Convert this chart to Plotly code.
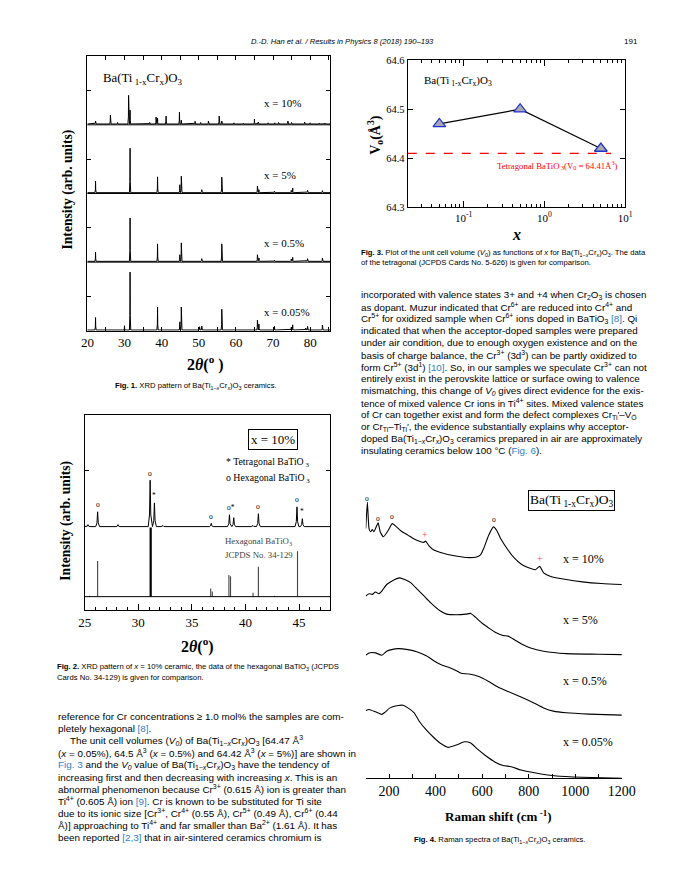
import plotly.graph_objects as go

PAGE_W, PAGE_H = 692, 875
OFF = 8                      # default body margin of the page
W, H = PAGE_W - 2 * OFF, 850
SERIF = "Liberation Serif"
SANS = "Liberation Sans"
BLUE = "#2f7fc8"

# ---------------- Fig. 1 : XRD peaks (2theta, relative intensity) ----------------
f1_theta_10 = [22.2, 26.2, 28.1, 31.1, 31.5, 36.8, 38.5, 38.9, 41.2, 44.8, 45.3, 49.0, 50.5,
               52.6, 55.5, 56.2, 59.5, 62.0, 65.0, 66.0, 68.7, 70.5, 71.5, 74.0, 75.0, 78.5,
               80.0, 82.5, 84.0]
f1_int_10 = [3, 9, 1.5, 29, 14, 1.5, 7, 6, 8, 12, 4, 2.7, 1.5, 3, 8, 3, 1.2, 0.8, 5, 2, 1.2,
             1.2, 1.5, 3, 1.5, 2, 1.2, 1, 1]
f1_theta_5 = [22.2, 31.5, 38.9, 44.9, 45.3, 50.8, 56.2, 65.8, 66.2, 70.4, 74.9, 75.3, 79.3, 83.3]
f1_int_5 = [11.7, 45, 16, 8, 16.7, 3, 15.7, 6.7, 3, 1.5, 2.3, 4.7, 2.3, 2]
f1_theta_05 = [22.2, 31.5, 38.9, 44.9, 45.3, 50.8, 56.2, 65.8, 66.2, 70.4, 74.9, 75.3, 79.3, 83.3]
f1_int_05 = [9.3, 44, 17.7, 6.7, 18.7, 2.7, 17.7, 6.7, 3.3, 1, 2.3, 4, 2.7, 3.3]
f1_theta_005 = [22.2, 30.0, 31.5, 38.9, 44.9, 45.3, 50.2, 50.8, 56.2, 65.8, 66.2, 70.4, 74.9,
                75.3, 78.8, 79.3, 83.3]
f1_int_005 = [12.7, 4.3, 58.7, 23.3, 8.3, 23.3, 3.3, 4, 21, 10, 6, 3.7, 2.7, 5.3, 2, 3.7, 5]
f1_labels = ["x = 10%", "x = 5%", "x = 0.5%", "x = 0.05%"]
f1_ticks = [20, 25, 30, 35, 40, 45, 50, 55, 60, 65, 70, 75, 80, 85]

# ---------------- Fig. 2 : x = 10% pattern and JCPDS 34-129 ----------------
f2_theta = [25.3, 26.2, 28.1, 31.1, 31.5, 32.3, 36.8, 38.5, 38.9, 40.7, 41.2, 44.8, 45.3]
f2_int = [2, 15, 2, 47, 24, 1, 3.3, 12, 9, 1, 13, 20, 8]
f2_mark_theta = [26.2, 31.1, 31.5, 36.8, 38.6, 41.2, 44.8, 45.3]
f2_mark_text = ["o", "o", "*", "o", "o*", "o", "o", "*"]
f2_ref_theta = [25.45, 26.2, 31.15, 36.75, 36.9, 38.45, 38.6, 40.7, 41.2, 42.7, 44.85]
f2_ref_int = [1, 36, 70, 8.3, 5.3, 22, 20.7, 4, 30.3, 1, 46]

# ---------------- Fig. 3 : unit cell volume ----------------
f3_x = [0.05, 0.5, 5.0]
f3_v = [64.47, 64.50, 64.42]
f3_ref_v = 64.41
f3_ref_x = [0.0203, 6.7]

# ---------------- Fig. 4 : Raman spectra ----------------
r10_x = [100, 107, 114, 121, 128, 135, 153, 162, 176, 197, 214, 232, 253, 281, 308, 336, 350,
         357, 371, 392, 433, 475, 531, 572, 593, 607, 628, 649, 662, 683, 711, 739, 767, 794,
         829, 847, 864, 892, 961, 1031, 1114, 1200]
r10_y = [253, 279.7, 253, 249.7, 252, 249.7, 258.7, 249.7, 244.7, 251.3, 258, 254.7, 250.3,
         246.3, 242.3, 239.7, 239, 240.3, 235.7, 231.3, 228, 225.7, 223.7, 224, 226.3, 233,
         246.3, 254.7, 251.3, 241.3, 231.3, 223, 217, 213.7, 211.3, 214.7, 208, 204.7, 201.3,
         199, 197.3, 196.3]
r5_x = [100, 114, 128, 142, 156, 169, 190, 211, 246, 267, 294, 322, 350, 378, 419, 447, 489,
        531, 551, 572, 600, 628, 656, 690, 711, 739, 767, 808, 864, 961, 1100, 1200]
r5_y = [184.7, 187, 186.3, 188.7, 187, 189.7, 196.3, 199.7, 203, 201.3, 198, 191.3, 184.7,
        178, 169.7, 166.3, 165.7, 166.3, 167, 163, 157, 152.3, 148, 144.7, 144, 140.3, 136.3,
        132, 128.7, 126.3, 125.7, 125.3]
r05_x = [100, 114, 142, 169, 190, 211, 239, 281, 322, 364, 399, 426, 461, 489, 510, 544, 586,
         628, 669, 711, 767, 822, 864, 906, 961, 1058, 1200]
r05_y = [124.7, 127, 127, 124.7, 128.7, 130.3, 131.3, 130.3, 128, 123.7, 118, 114.7, 112, 109,
         106.3, 105.7, 103, 98, 92.3, 88, 82.3, 76.3, 71.3, 68, 66.3, 65, 64]
r005_x = [100, 114, 142, 169, 183, 204, 239, 260, 281, 308, 329, 357, 392, 419, 454, 489, 524,
          551, 579, 614, 656, 690, 725, 767, 836, 919, 1031, 1200]
r005_y = [68.7, 69.7, 67.3, 64.7, 67, 71.3, 73.7, 74, 71.3, 66.3, 58, 49.7, 41.3, 35.7, 31.3,
          33.7, 37, 35.7, 29.7, 23, 16.3, 13, 11.7, 8.3, 5, 2.3, 1, 0]
r_mark_x = [107, 153, 214, 653, 354, 850]
r_mark_y = [283.7, 263, 265.3, 262, 247, 222.3]
r_mark_text = ["o", "o", "o", "o", "+", "+"]
r_labels = ["x = 10%", "x = 5%", "x = 0.5%", "x = 0.05%"]
r_ticks = [100, 200, 300, 400, 500, 600, 700, 800, 900, 1000, 1100, 1200]

# ---------------- page text ----------------
header = "<i>D.-D. Han et al. / Results in Physics 8 (2018) 190–193</i>"
page_no = "191"
cap1 = "<b>Fig. 1.</b> XRD pattern of Ba(Ti<sub>1−<i>x</i></sub>Cr<sub><i>x</i></sub>)O<sub>3</sub> ceramics."
cap2 = ["<b>Fig. 2.</b> XRD pattern of <i>x</i> = 10% ceramic, the data of the hexagonal BaTiO<sub>3</sub> (JCPDS",
        "Cards No. 34-129) is given for comparison."]
cap3 = ["<b>Fig. 3.</b> Plot of the unit cell volume (<i>V</i><sub>0</sub>) as functions of <i>x</i> for Ba(Ti<sub>1−<i>x</i></sub>Cr<sub><i>x</i></sub>)O<sub>3</sub>. The data",
        "of the tetragonal (JCPDS Cards No. 5-626) is given for comparison."]
cap4 = "<b>Fig. 4.</b> Raman spectra of Ba(Ti<sub>1−<i>x</i></sub>Cr<sub><i>x</i></sub>)O<sub>3</sub> ceramics."

def blue(s):
    return "<span style='color:%s'>%s</span>" % (BLUE, s)

right_text = [
    "incorporated with valence states 3+ and +4 when Cr<sub>2</sub>O<sub>3</sub> is chosen",
    "as dopant. Muzur indicated that Cr<sup>6+</sup> are reduced into Cr<sup>4+</sup> and",
    "Cr<sup>5+</sup> for oxidized sample when Cr<sup>6+</sup> ions doped in BaTiO<sub>3</sub> " + blue("[8]") + ". Qi",
    "indicated that when the acceptor-doped samples were prepared",
    "under air condition, due to enough oxygen existence and on the",
    "basis of charge balance, the Cr<sup>3+</sup> (3d<sup>3</sup>) can be partly oxidized to",
    "form Cr<sup>5+</sup> (3d<sup>1</sup>) " + blue("[10]") + ". So, in our samples we speculate Cr<sup>3+</sup> can not",
    "entirely exist in the perovskite lattice or surface owing to valence",
    "mismatching, this change of <i>V<sub>0</sub></i> gives direct evidence for the exis-",
    "tence of mixed valence Cr ions in Ti<sup>4+</sup> sites. Mixed valence states",
    "of Cr can together exist and form the defect complexes Cr<sub>Ti</sub>′–V<sub>Ö</sub>",
    "or Cr<sub>Ti</sub>–Ti<sub>Ti</sub>′, the evidence substantially explains why acceptor-",
    "doped Ba(Ti<sub>1−<i>x</i></sub>Cr<sub><i>x</i></sub>)O<sub>3</sub> ceramics prepared in air are approximately",
    "insulating ceramics below 100 °C (" + blue("Fig. 6") + ").",
]
left_text = [
    "reference for Cr concentrations ≥ 1.0 mol% the samples are com-",
    "pletely hexagonal " + blue("[8]") + ".",
    "The unit cell volumes (<i>V<sub>0</sub></i>) of Ba(Ti<sub>1−<i>x</i></sub>Cr<sub><i>x</i></sub>)O<sub>3</sub> [64.47 Å<sup>3</sup>",
    "(<i>x</i> = 0.05%), 64.5 Å<sup>3</sup> (<i>x</i> = 0.5%) and 64.42 Å<sup>3</sup> (<i>x</i> = 5%)] are shown in",
    blue("Fig. 3") + " and the <i>V<sub>0</sub></i> value of Ba(Ti<sub>1−<i>x</i></sub>Cr<sub><i>x</i></sub>)O<sub>3</sub> have the tendency of",
    "increasing first and then decreasing with increasing <i>x</i>. This is an",
    "abnormal phenomenon because Cr<sup>3+</sup> (0.615 Å) ion is greater than",
    "Ti<sup>4+</sup> (0.605 Å) ion " + blue("[9]") + ". Cr is known to be substituted for Ti site",
    "due to its ionic size [Cr<sup>3+</sup>, Cr<sup>4+</sup> (0.55 Å), Cr<sup>5+</sup> (0.49 Å), Cr<sup>6+</sup> (0.44",
    "Å)] approaching to Ti<sup>4+</sup> and far smaller than Ba<sup>2+</sup> (1.61 Å). It has",
    "been reported " + blue("[2,3]") + " that in air-sintered ceramics chromium is",
]

# ====================================================================
def px(x):
    return (x - OFF) / W

def py(y):
    return 1 - (y - OFF) / H

def spike_path(pos, inten, base, scale, lo, hi, hw, sh):
    xs, ys = [lo], [base]
    for p, h in sorted(zip(pos, inten)):
        xs += [p - hw, p - sh, p, p + sh, p + hw]
        ys += [base, base + 0.25 * h * scale, base + h * scale, base + 0.25 * h * scale, base]
    xs.append(hi)
    ys.append(base)
    return xs, ys

fig = go.Figure()
anns = []
shapes = []

def ann(text, x, y, size, family=SERIF, color="black", xanchor="center", angle=0, **kw):
    d = dict(text=text, x=px(x), y=py(y), xref="paper", yref="paper", showarrow=False,
             xanchor=xanchor, yanchor="middle", textangle=angle,
             font=dict(family=family, size=size, color=color))
    d.update(kw)
    anns.append(d)

# ---------- Fig 1 ----------
F1_PX = 69.6  # pixel height of one stacked panel
panels = [(f1_theta_10, f1_int_10), (f1_theta_5, f1_int_5),
          (f1_theta_05, f1_int_05), (f1_theta_005, f1_int_005)]
for i, (th, it) in enumerate(panels):
    base = 3 - i + 0.012
    xs, ys = spike_path(th, it, base, 1 / F1_PX, 20, 85.4, 0.18, 0.05)
    fig.add_trace(go.Scatter(x=xs, y=ys, mode="lines", line=dict(color="black", width=1),
                             xaxis="x", yaxis="y", hoverinfo="skip"))
for k in [1, 2, 3]:
    shapes.append(dict(type="line", xref="x domain", yref="y", x0=0, x1=1, y0=k, y1=k,
                       line=dict(color="black", width=1)))
label_y = [99, 171.7, 241, 311]
for lab, yy in zip(f1_labels, label_y):
    ann(lab, 263, yy, 11, xanchor="left")
ann("Ba(Ti<sub> 1-x</sub>Cr<sub>x</sub>)O<sub>3</sub>", 96.7, 75, 12.8, xanchor="left")
ann("<b>Intensity (arb. units)</b>", 62.5, 187, 13.6, angle=-90)
ann("<b>2</b><b><i>θ</i></b><b>(<sup>o</sup> )</b>", 205, 363, 16)

# ---------- Fig 2 ----------
F2_PX = 70.0
xr_base = 1.014
xs, ys = spike_path(f2_theta, f2_int, xr_base, 1 / F2_PX, 25, 47.9, 0.18, 0.06)
fig.add_trace(go.Scatter(x=xs, y=ys, mode="lines", line=dict(color="black", width=1),
                         xaxis="x2", yaxis="y2", hoverinfo="skip"))
for strong in (False, True):
    sx, sy = [], []
    for p, h in zip(f2_ref_theta, f2_ref_int):
        if (h >= 60) == strong:
            sx += [p, p, None]
            sy += [0, h / F2_PX, None]
    fig.add_trace(go.Scatter(x=sx, y=sy, mode="lines",
                             line=dict(color="black" if strong else "#444444",
                                       width=2.2 if strong else 1.1),
                             xaxis="x2", yaxis="y2", hoverinfo="skip"))
shapes.append(dict(type="line", xref="x2 domain", yref="y2", x0=0, x1=1, y0=0, y1=0,
                   line=dict(color="black", width=1)))
for p, t in zip(f2_mark_theta, f2_mark_text):
    j = min(range(len(f2_theta)), key=lambda k: abs(f2_theta[k] - p))
    anns.append(dict(text=t, x=p, y=xr_base + (f2_int[j] + 7) / F2_PX, xref="x2", yref="y2",
                     showarrow=False, xanchor="center", yanchor="middle",
                     font=dict(family=SERIF, size=7.5, color="black")))
ann("x = 10%", 274.7, 440, 13, bordercolor="black", borderwidth=1, borderpad=2)
ann("* Tetragonal BaTiO<sub> 3</sub>", 223.5, 463, 9.8, xanchor="left")
ann("o Hexagonal BaTiO<sub> 3</sub>", 223.5, 479, 9.8, xanchor="left")
ann("Hexagonal BaTiO<sub>3</sub>", 223, 543, 8.8, xanchor="left", color="#444444")
ann("JCPDS No. 34-129", 223, 557, 8.8, xanchor="left", color="#444444")
ann("<b>Intensity (arb. units)</b>", 61, 522, 13.6, angle=-90)
ann("<b>2</b><b><i>θ</i></b><b>(<sup>o</sup>)</b>", 196, 649, 16)

# ---------- Fig 3 ----------
fig.add_trace(go.Scatter(x=f3_ref_x, y=[f3_ref_v, f3_ref_v], mode="lines",
                         line=dict(color="red", width=1.3, dash="dash"),
                         xaxis="x3", yaxis="y3", hoverinfo="skip"))
fig.add_trace(go.Scatter(x=f3_x, y=f3_v, mode="lines+markers",
                         line=dict(color="black", width=1.2),
                         marker=dict(symbol="triangle-up", size=11, color="#a8a8b0",
                                     line=dict(color="#2233cc", width=1.3)),
                         xaxis="x3", yaxis="y3", hoverinfo="skip"))
ann("Ba(Ti<sub> 1-x</sub>Cr<sub>x</sub>)O<sub>3</sub>", 428, 77, 11, xanchor="left")
ann("Tetragonal BaTiO<sub> 3</sub>(V<sub>0</sub> = 64.41Å<sup>3</sup>)", 503, 163, 8.7,
    xanchor="left", color="red")
ann("<b>V<sub>o</sub>(Å<sup>3</sup>)</b>", 380, 131, 14, angle=-90)
ann("<b><i>x</i></b>", 526, 232, 16)

# ---------- Fig 4 ----------
for rx, ry in [(r10_x, r10_y), (r5_x, r5_y), (r05_x, r05_y), (r005_x, r005_y)]:
    fig.add_trace(go.Scatter(x=rx, y=ry, mode="lines",
                             line=dict(color="black", width=1.1, shape="spline", smoothing=0.5),
                             xaxis="x4", yaxis="y4", hoverinfo="skip"))
for mx, my, t in zip(r_mark_x, r_mark_y, r_mark_text):
    anns.append(dict(text=t, x=mx, y=my, xref="x4", yref="y4", showarrow=False,
                     xanchor="center", yanchor="middle",
                     font=dict(family=SERIF, size=7.5 if t == "o" else 10,
                               color="black" if t == "o" else "#ff4040")))
for lab, yy in zip(r_labels, [560.7, 622.7, 684.3, 746.7]):
    ann(lab, 572, yy, 12, xanchor="left")
ann("Ba(Ti<sub> 1-x</sub>Cr<sub>x</sub>)O<sub>3</sub>", 582.5, 502, 13.5,
    bordercolor="black", borderwidth=1, borderpad=1)
ann("<b>Raman shift (cm<sup> -1</sup>)</b>", 507, 822, 13)

# ---------- page text ----------
ann(header, 346, 37, 7.6, family=SANS)
ann(page_no, 653, 37, 8, family=SANS, xanchor="right")
ann(cap1, 195, 385.5, 7.7, family=SANS)
ann(cap2[0], 49.5, 670.7, 7.7, family=SANS, xanchor="left")
ann(cap2[1], 49.5, 681.7, 7.7, family=SANS, xanchor="left")
ann(cap3[0], 362.7, 250.7, 7.7, family=SANS, xanchor="left")
ann(cap3[1], 362.7, 260.7, 7.7, family=SANS, xanchor="left")
ann(cap4, 508, 845.7, 7.7, family=SANS)
for i, t in enumerate(right_text):
    ann(t, 362.7, 293.3 + i * 12.15, 9.8, family=SANS, xanchor="left")
for i, t in enumerate(left_text):
    x0 = 63 if i == 2 else 50
    ann(t, x0, 720.7 + i * 12.27, 9.9, family=SANS, xanchor="left")

# ---------- axes ----------
common = dict(showgrid=False, zeroline=False, showline=True, linecolor="black", linewidth=1,
              ticks="inside", tickcolor="black")
tf = dict(family=SERIF, size=13, color="black")
fig.update_layout(
    width=W, height=H, margin=dict(l=0, r=0, t=0, b=0),
    paper_bgcolor="white", plot_bgcolor="rgba(0,0,0,0)", showlegend=False,
    xaxis=dict(domain=[px(82.7), px(333.3)], anchor="y", range=[20, 85.4],
               tickvals=f1_ticks, ticktext=[str(v) if v % 10 == 0 else "" for v in f1_ticks],
               ticklen=4, mirror="ticks", tickfont=tf, **common),
    yaxis=dict(domain=[py(330), py(51.7)], anchor="x", range=[0, 4],
               tickvals=[0.5, 1.5, 2.5, 3.5], showticklabels=False, ticklen=4,
               mirror="ticks", **common),
    xaxis2=dict(domain=[px(80), px(333.3)], anchor="y2", range=[25, 47.9],
                tickvals=[25, 30, 35, 40, 45], ticklen=6, mirror=True, tickfont=tf,
                minor=dict(dtick=1, tick0=25, ticklen=3, ticks="inside", tickcolor="black"),
                **common),
    xaxis5=dict(overlaying="x2", anchor="y2", side="top", range=[25, 47.9],
                tickvals=[30, 35, 40, 45], ticks="inside", ticklen=5, tickcolor="black",
                showticklabels=False, showline=False, showgrid=False, zeroline=False),
    yaxis2=dict(domain=[py(613.3), py(415.7)], anchor="x2", range=[-0.2, 2.623],
                tickvals=[1.823], showticklabels=False, ticklen=4, mirror="ticks", **common),
    xaxis3=dict(domain=[px(413.3), px(637.7)], anchor="y3", type="log", range=[-1.693, 1],
                tickvals=[0.1, 1, 10],
                ticktext=["10<sup>-1</sup>", "10<sup>0</sup>", "10<sup>1</sup>"],
                ticklen=6, mirror="ticks", tickfont=dict(family=SERIF, size=11, color="black"),
                minor=dict(tickvals=[m * d for d in [0.01, 0.1, 1] for m in range(2, 10)],
                           ticklen=3, ticks="inside", tickcolor="black"),
                **common),
    yaxis3=dict(domain=[py(205), py(55.7)], anchor="x3", range=[64.3, 64.6],
                tickvals=[64.3, 64.4, 64.5, 64.6], tickformat=".1f", ticklen=5,
                mirror="ticks", tickfont=dict(family=SERIF, size=10.5, color="black"), **common),
    xaxis4=dict(domain=[px(370), px(634.3)], anchor="y4", range=[100, 1200],
                tickvals=r_ticks, ticktext=[str(v) if v % 200 == 0 else "" for v in r_ticks],
                ticklen=4, mirror=False, tickfont=dict(family=SERIF, size=14, color="black"),
                **common),
    yaxis4=dict(domain=[py(783.3), py(470)], anchor="x4", range=[0, 313.3], visible=False),
    annotations=anns, shapes=shapes,
)

fig.write_html("out.html", config={"displayModeBar": False, "staticPlot": True})
